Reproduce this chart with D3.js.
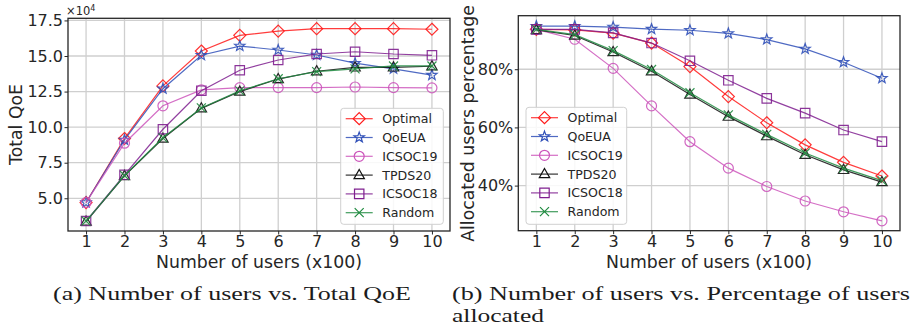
<!DOCTYPE html>
<html>
<head>
<meta charset="utf-8">
<script src="https://cdn.jsdelivr.net/npm/d3@7"></script>
<style>
  html, body { margin: 0; padding: 0; background: #fff; }
  svg { display: block; }
</style>
</head>
<body>
<div id="chart"></div>
<script>
// data
const users = [1, 2, 3, 4, 5, 6, 7, 8, 9, 10];
const seriesNames = ["Optimal", "QoEUA", "ICSOC19", "TPDS20", "ICSOC18", "Random"];

// (a) total QoE, x10^4
const qoeOptimal = [4.7, 9.2, 12.9, 15.35, 16.45, 16.75, 16.92, 16.92, 16.92, 16.88];
const qoeQoEUA   = [4.7, 9.1, 12.7, 15.05, 15.7, 15.42, 15.07, 14.5, 14.1, 13.66];
const qoeICSOC19 = [4.7, 8.87, 11.5, 12.62, 12.78, 12.78, 12.78, 12.82, 12.78, 12.76];
const qoeTPDS20  = [3.36, 6.57, 9.2, 11.32, 12.5, 13.38, 13.93, 14.2, 14.2, 14.28];
const qoeICSOC18 = [3.4, 6.65, 9.85, 12.56, 14.0, 14.72, 15.14, 15.3, 15.14, 15.05];
const qoeRandom  = [3.4, 6.6, 9.25, 11.35, 12.55, 13.4, 13.9, 14.1, 14.3, 14.3];
const qoeTicks = [5, 7.5, 10, 12.5, 15, 17.5];

// (b) allocated users, %
const pctOptimal = [93.7, 93.5, 92.4, 89.0, 80.9, 70.6, 61.6, 54.0, 48.0, 43.3];
const pctQoEUA   = [94.8, 94.8, 94.5, 93.8, 93.4, 92.3, 90.2, 87.0, 82.4, 76.9];
const pctICSOC19 = [93.7, 90.3, 80.3, 67.4, 55.1, 46.0, 39.7, 34.7, 31.0, 27.9];
const pctTPDS20  = [93.5, 91.6, 85.9, 79.3, 71.3, 63.7, 57.0, 50.6, 45.4, 41.2];
const pctICSOC18 = [93.7, 93.7, 92.5, 89.0, 82.9, 76.2, 70.0, 64.9, 59.1, 55.1];
const pctRandom  = [93.7, 91.9, 86.4, 79.9, 71.9, 64.3, 57.6, 51.2, 46.0, 41.7];
const pctTicks = [40, 60, 80];

const W = 913, H = 328;
const FONT = "'DejaVu Sans', sans-serif";

const styles = {
  Optimal: {color: '#ff1a1a', marker: 'diamond'},
  QoEUA:   {color: '#3050b8', marker: 'star'},
  ICSOC19: {color: '#cc55bb', marker: 'circle'},
  TPDS20:  {color: '#111111', marker: 'triangle'},
  ICSOC18: {color: '#7f1f8f', marker: 'square'},
  Random:  {color: '#1f8a3f', marker: 'x'}
};

function markerPath(type) {
  const p = d3.path();
  if (type === 'diamond') {
    p.moveTo(0, -6); p.lineTo(6, 0); p.lineTo(0, 6); p.lineTo(-6, 0); p.closePath();
  } else if (type === 'circle') {
    p.arc(0, 0, 5, 0, 2 * Math.PI); p.closePath();
  } else if (type === 'square') {
    p.rect(-4.7, -4.7, 9.4, 9.4);
  } else if (type === 'triangle') {
    p.moveTo(0, -5.6); p.lineTo(5.2, 3.6); p.lineTo(-5.2, 3.6); p.closePath();
  } else if (type === 'x') {
    p.moveTo(-4.5, -4.5); p.lineTo(4.5, 4.5); p.moveTo(4.5, -4.5); p.lineTo(-4.5, 4.5);
  } else if (type === 'star') {
    for (let i = 0; i < 10; i++) {
      const r = i % 2 === 0 ? 5.4 : 2.2;
      const a = -Math.PI / 2 + i * Math.PI / 5;
      if (i === 0) p.moveTo(r * Math.cos(a), r * Math.sin(a));
      else p.lineTo(r * Math.cos(a), r * Math.sin(a));
    }
    p.closePath();
  }
  return p.toString();
}

const svg = d3.select('#chart').append('svg')
  .attr('width', W).attr('height', H)
  .style('font-family', FONT);

function drawPanel(cfg) {
  const {x0, x1, y0, y1, yDomain, yTicks, yFmt, series, legend} = cfg;
  const x = d3.scaleLinear().domain([0.53, 10.47]).range([x0, x1]);
  const y = d3.scaleLinear().domain(yDomain).range([y1, y0]);
  const g = svg.append('g');

  // grid
  g.selectAll('.gx').data(users).enter().append('line')
    .attr('x1', d => x(d)).attr('x2', d => x(d))
    .attr('y1', y0).attr('y2', y1)
    .attr('stroke', '#cfcfcf').attr('stroke-width', 1.3);
  g.selectAll('.gy').data(yTicks).enter().append('line')
    .attr('x1', x0).attr('x2', x1)
    .attr('y1', d => y(d)).attr('y2', d => y(d))
    .attr('stroke', '#cfcfcf').attr('stroke-width', 1.3);

  // axes
  const ax = g.append('g')
    .attr('transform', `translate(0,${y1})`)
    .call(d3.axisBottom(x).tickValues(users).tickSize(3.5).tickPadding(1.5).tickFormat(d3.format('d')));
  const ay = g.append('g')
    .attr('transform', `translate(${x0},0)`)
    .call(d3.axisLeft(y).tickValues(yTicks).tickSize(3.5).tickPadding(1.5).tickFormat(yFmt));
  [ax, ay].forEach(a => {
    a.select('.domain').remove();
    a.selectAll('line').attr('stroke', '#262626').attr('stroke-width', 1);
    a.selectAll('text').attr('fill', '#262626')
      .style('font-family', FONT).style('font-size', '16px');
  });

  // frame
  g.append('rect')
    .attr('x', x0).attr('y', y0)
    .attr('width', x1 - x0).attr('height', y1 - y0)
    .attr('fill', 'none').attr('stroke', '#262626').attr('stroke-width', 1.3);

  const line = d3.line().x((d, i) => x(users[i])).y(d => y(d));

  series.forEach(s => {
    const st = styles[s.name];
    const sg = g.append('g');
    sg.append('path')
      .attr('d', line(s.values))
      .attr('fill', 'none')
      .attr('stroke', st.color).attr('stroke-width', 1.2)
      .attr('stroke-opacity', 0.85);
    sg.selectAll('.m').data(s.values).enter().append('path')
      .attr('d', markerPath(st.marker))
      .attr('transform', (d, i) => `translate(${x(users[i])},${y(d)})`)
      .attr('fill', 'none')
      .attr('stroke', st.color).attr('stroke-width', 1.2)
      .attr('stroke-opacity', 0.9);
  });

  // legend
  const lg = g.append('g');
  lg.append('rect')
    .attr('x', legend.x).attr('y', legend.y)
    .attr('width', legend.w).attr('height', legend.h)
    .attr('rx', 3)
    .attr('fill', '#fff').attr('fill-opacity', 0.85)
    .attr('stroke', '#d0d0d0').attr('stroke-width', 1);
  seriesNames.forEach((name, i) => {
    const st = styles[name];
    const cy = legend.y + 10.4 + i * 18.8;
    const hx = legend.x + 5;
    lg.append('line')
      .attr('x1', hx).attr('x2', hx + 27)
      .attr('y1', cy).attr('y2', cy)
      .attr('stroke', st.color).attr('stroke-width', 1.2).attr('stroke-opacity', 0.85);
    lg.append('path')
      .attr('d', markerPath(st.marker))
      .attr('transform', `translate(${hx + 13.5},${cy})`)
      .attr('fill', 'none').attr('stroke', st.color).attr('stroke-width', 1.2);
    lg.append('text')
      .attr('x', hx + 36.5).attr('y', cy)
      .attr('dy', '0.36em')
      .attr('fill', '#262626')
      .style('font-size', '12.6px')
      .text(name);
  });

  return {x, y, g};
}

// (a)
drawPanel({
  x0: 68, x1: 450, y0: 18.3, y1: 231,
  yDomain: [2.7, 17.65], yTicks: qoeTicks, yFmt: d3.format('.1f'),
  series: [
    {name: 'Optimal', values: qoeOptimal},
    {name: 'QoEUA', values: qoeQoEUA},
    {name: 'ICSOC19', values: qoeICSOC19},
    {name: 'TPDS20', values: qoeTPDS20},
    {name: 'ICSOC18', values: qoeICSOC18},
    {name: 'Random', values: qoeRandom}
  ],
  legend: {x: 340.7, y: 108.3, w: 102.6, h: 116}
});

// (b)
drawPanel({
  x0: 518.3, x1: 900, y0: 15.7, y1: 230.7,
  yDomain: [24.5, 98.4], yTicks: pctTicks, yFmt: d => d + '%',
  series: [
    {name: 'Optimal', values: pctOptimal},
    {name: 'QoEUA', values: pctQoEUA},
    {name: 'ICSOC19', values: pctICSOC19},
    {name: 'TPDS20', values: pctTPDS20},
    {name: 'ICSOC18', values: pctICSOC18},
    {name: 'Random', values: pctRandom}
  ],
  legend: {x: 526, y: 107.3, w: 100.7, h: 117}
});

// axis labels
svg.append('text')
  .attr('x', 259).attr('y', 267.5)
  .attr('text-anchor', 'middle').attr('fill', '#262626')
  .style('font-size', '17.3px')
  .text('Number of users (x100)');
svg.append('text')
  .attr('x', 709).attr('y', 267.5)
  .attr('text-anchor', 'middle').attr('fill', '#262626')
  .style('font-size', '17.3px')
  .text('Number of users (x100)');
svg.append('text')
  .attr('transform', 'translate(22,124.5) rotate(-90)')
  .attr('text-anchor', 'middle').attr('fill', '#262626')
  .style('font-size', '17.3px')
  .text('Total QoE');
svg.append('text')
  .attr('transform', 'translate(474,123.5) rotate(-90)')
  .attr('text-anchor', 'middle').attr('fill', '#262626')
  .style('font-size', '17.3px')
  .text('Allocated users percentage');

// offset text
const off = svg.append('text')
  .attr('x', 66).attr('y', 15)
  .attr('fill', '#262626')
  .style('font-size', '11.5px');
off.append('tspan').text('×10');
off.append('tspan').attr('dy', -4).style('font-size', '8px').text('4');

// captions
const SERIF = "'Liberation Serif', 'DejaVu Serif', serif";
svg.append('text')
  .attr('x', 53).attr('y', 300)
  .attr('textLength', 358).attr('lengthAdjust', 'spacingAndGlyphs')
  .style('font-family', SERIF).style('font-size', '19.5px')
  .attr('fill', '#1c1c1c')
  .text('(a) Number of users vs.  Total QoE');
svg.append('text')
  .attr('x', 452).attr('y', 300)
  .attr('textLength', 458).attr('lengthAdjust', 'spacingAndGlyphs')
  .style('font-family', SERIF).style('font-size', '19.5px')
  .attr('fill', '#1c1c1c')
  .text('(b) Number of users vs.  Percentage of users');
svg.append('text')
  .attr('x', 452).attr('y', 321.5)
  .attr('textLength', 92).attr('lengthAdjust', 'spacingAndGlyphs')
  .style('font-family', SERIF).style('font-size', '19.5px')
  .attr('fill', '#1c1c1c')
  .text('allocated');
</script>
</body>
</html>
